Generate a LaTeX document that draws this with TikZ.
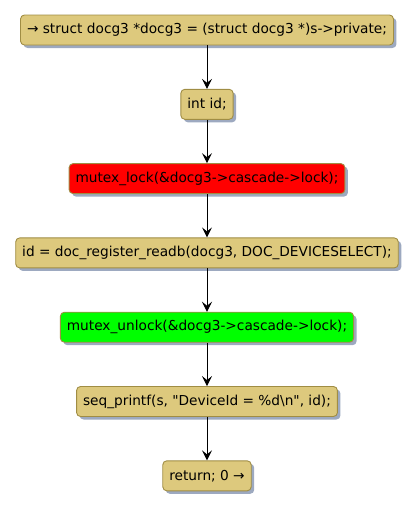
\documentclass[tikz,border=0pt]{standalone}
\usepackage{fontspec}
\setmainfont{DejaVu Sans}[Ligatures=TeXOff]
\usetikzlibrary{positioning,shadows,arrows.meta}
\definecolor{actfill}{HTML}{DDC97D}
\definecolor{actline}{HTML}{A08D44}
\definecolor{actshadow}{HTML}{9DA9C0}
\tikzset{
  stmt/.style={draw=actline, fill=actfill, rounded corners=4pt, line width=0.9pt,
    minimum height=30pt, inner xsep=6.5pt, inner ysep=0pt, font=\fontsize{13.7pt}{16pt}\selectfont,
    drop shadow={shadow xshift=3pt, shadow yshift=-3pt, fill=actshadow, opacity=1}},
  flow/.style={-{Stealth[length=10pt,width=10pt,inset=4pt]}, line width=0.9pt}
}
\begin{document}
\begin{tikzpicture}[x=1pt, y=-1pt, node distance=43.4pt]
  \useasboundingbox (0,0) rectangle (417,507);
  \node[stmt] (s1) at (207,30) {→ struct docg3 *docg3 = (struct docg3 *)s->private;};
  \node[stmt, below=of s1] (s2) {int id;};
  \node[stmt, below=of s2, fill=red] (s3) {mutex\_lock(\&docg3->cascade->lock);};
  \node[stmt, below=of s3] (s4) {id = doc\_register\_readb(docg3, DOC\_DEVICESELECT);};
  \node[stmt, below=of s4, fill=green] (s5) {mutex\_unlock(\&docg3->cascade->lock);};
  \node[stmt, below=of s5] (s6) {seq\_printf(s, "DeviceId = \%d\textbackslash n", id);};
  \node[stmt, below=of s6] (s7) {return; 0 →};
  \foreach \a/\b in {s1/s2, s2/s3, s3/s4, s4/s5, s5/s6, s6/s7}
    \draw[flow] (\a) -- (\b);
\end{tikzpicture}
\end{document}
